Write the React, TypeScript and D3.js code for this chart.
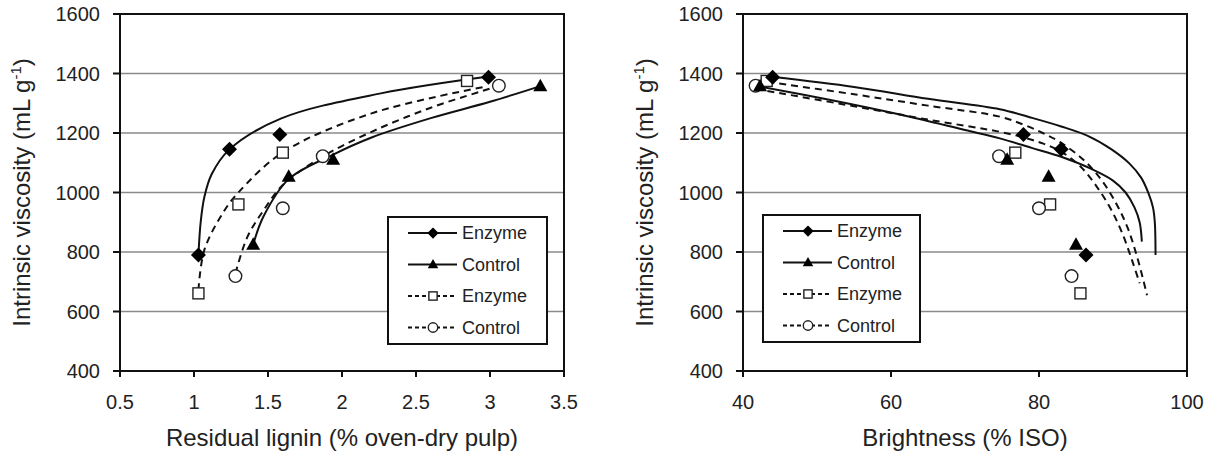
import React from 'react';
import * as d3 from 'd3';

// ---------- data ----------
const legendLabels = ['Enzyme', 'Control', 'Enzyme', 'Control'];

// Intrinsic viscosity (mL g-1), shared by both panels
const viscEnzymeA = [790, 1145, 1195, 1387];
const viscControlA = [824, 1053, 1110, 1357];
const viscEnzymeB = [661, 960, 1134, 1375];
const viscControlB = [719, 947, 1122, 1359];

// Residual lignin (% oven-dry pulp)
const ligninEnzymeA = [1.03, 1.24, 1.58, 2.99];
const ligninControlA = [1.40, 1.64, 1.94, 3.34];
const ligninEnzymeB = [1.03, 1.30, 1.60, 2.845];
const ligninControlB = [1.28, 1.60, 1.87, 3.06];

// Brightness (% ISO)
const brightEnzymeA = [86.35, 83.0, 77.9, 44.0];
const brightControlA = [85.0, 81.3, 75.7, 42.3];
const brightEnzymeB = [85.6, 81.5, 76.8, 43.2];
const brightControlB = [84.4, 80.0, 74.6, 41.7];

// Trend lines [x, viscosity]
const trendLigninEnzymeA = [[1.03, 790], [1.045, 900], [1.07, 985], [1.12, 1062], [1.24, 1145], [1.59, 1249], [2.27, 1334], [2.99, 1390]];
const trendLigninControlA = [[1.40, 825], [1.47, 920], [1.64, 1045], [1.93, 1125], [2.2, 1185], [2.6, 1250], [3.0, 1305], [3.33, 1356]];
const trendLigninEnzymeB = [[1.03, 672], [1.07, 807], [1.2, 935], [1.3, 1000], [1.6, 1135], [2.2, 1266], [2.95, 1354]];
const trendLigninControlB = [[1.28, 728], [1.36, 850], [1.47, 940], [1.6, 1025], [1.86, 1118], [2.2, 1204], [2.6, 1285], [3.0, 1349]];

const trendBrightEnzymeA = [[43.9, 1389], [55, 1355], [65, 1315], [74.7, 1280], [79.2, 1250], [83, 1222], [86.8, 1188], [89.8, 1145], [92.2, 1098], [93.8, 1050], [94.8, 997], [95.4, 950], [95.65, 900], [95.75, 790]];
const trendBrightControlA = [[42.3, 1356], [52, 1310], [61.2, 1262], [70, 1210], [74.7, 1182], [79, 1150], [83, 1120], [87, 1080], [90, 1040], [91.7, 1000], [92.9, 950], [93.6, 900], [93.9, 835]];
const trendBrightEnzymeB = [[43.3, 1372], [55, 1330], [65, 1292], [74.7, 1255], [77.9, 1228], [80.5, 1200], [82.8, 1170], [86, 1110], [88.5, 1040], [90.5, 960], [92, 880], [93.3, 780], [94.6, 655]];
const trendBrightControlB = [[41.7, 1348], [55, 1290], [65, 1245], [74.7, 1204], [77.9, 1185], [80.5, 1165], [82.8, 1140], [85.5, 1090], [87.8, 1020], [89.8, 940], [91.3, 860], [92.6, 770], [93.6, 695]];

const yTicks = [400, 600, 800, 1000, 1200, 1400, 1600];
const yTickLabels = ['400', '600', '800', '1000', '1200', '1400', '1600'];
const ligninTicks = [0.5, 1, 1.5, 2, 2.5, 3, 3.5];
const ligninTickLabels = ['0.5', '1', '1.5', '2', '2.5', '3', '3.5'];
const brightTicks = [40, 60, 80, 100];
const brightTickLabels = ['40', '60', '80', '100'];

const FONT = '"Liberation Sans", Arial, Helvetica, sans-serif';
const TEXT = '#222';

type Shape = 'diamond' | 'triangle' | 'square' | 'circle';

function Marker({ shape, x, y, k = 1 }: { shape: Shape; x: number; y: number; k?: number }) {
  if (shape === 'diamond') {
    const s = 7.5 * k;
    return <polygon points={`${x},${y - s} ${x + s},${y} ${x},${y + s} ${x - s},${y}`} fill="#000" />;
  }
  if (shape === 'triangle') {
    const w = 7 * k, h1 = 7.5 * k, h2 = 5 * k;
    return <polygon points={`${x},${y - h1} ${x + w},${y + h2} ${x - w},${y + h2}`} fill="#000" />;
  }
  if (shape === 'square') {
    const s = 5.5 * k;
    return <rect x={x - s} y={y - s} width={2 * s} height={2 * s} fill="#fff" stroke="#222" strokeWidth={1.4} />;
  }
  return <circle cx={x} cy={y} r={6.3 * k} fill="#fff" stroke="#222" strokeWidth={1.4} />;
}

type Series = { xs: number[]; ys: number[]; trend: number[][]; shape: Shape; dashed: boolean };

function Panel({ left, xDomain, xTicks, xTickLabels, xTitle, series, legend }: {
  left: number; xDomain: [number, number]; xTicks: number[]; xTickLabels: string[]; xTitle: string;
  series: Series[]; legend: { x: number; y: number; w: number; h: number };
}) {
  const top = 14, bottom = 371, width = 444;
  const x = d3.scaleLinear().domain(xDomain).range([left, left + width]);
  const y = d3.scaleLinear().domain([400, 1600]).range([bottom, top]);
  const line = d3.line<number[]>().x(d => x(d[0])).y(d => y(d[1])).curve(d3.curveCatmullRom.alpha(0.5));
  const drawOrder = [2, 3, 0, 1];
  const rowY = (i: number) => legend.y + 16 + i * 31.5;
  return (
    <g>
      {yTicks.slice(1, -1).map(t => (
        <line key={'g' + t} x1={left} x2={left + width} y1={y(t)} y2={y(t)} stroke="#8a8a8a" strokeWidth={1.5} />
      ))}
      <rect x={left} y={top} width={width} height={bottom - top} fill="none" stroke="#111" strokeWidth={2} />
      {yTicks.map((t, i) => (
        <g key={'yt' + t}>
          <line x1={left - 7} x2={left} y1={y(t)} y2={y(t)} stroke="#111" strokeWidth={2} />
          <text x={left - 20} y={y(t)} dy="0.35em" textAnchor="end" fontSize={20} fill={TEXT} fontFamily={FONT}>{yTickLabels[i]}</text>
        </g>
      ))}
      {xTicks.map((t, i) => (
        <g key={'xt' + t}>
          <line x1={x(t)} x2={x(t)} y1={bottom} y2={bottom + 6} stroke="#111" strokeWidth={2} />
          <text x={x(t)} y={409} textAnchor="middle" fontSize={20} fill={TEXT} fontFamily={FONT}>{xTickLabels[i]}</text>
        </g>
      ))}
      <text x={left + width / 2} y={446} textAnchor="middle" fontSize={24} fill={TEXT} fontFamily={FONT}>{xTitle}</text>
      <text transform={`translate(${left - 90},${(top + bottom) / 2}) rotate(-90)`} textAnchor="middle" fontSize={24} fill={TEXT} fontFamily={FONT}>
        Intrinsic viscosity (mL g<tspan fontSize={15} dy={-9}>-1</tspan><tspan dy={9}>)</tspan>
      </text>
      {series.map((s, i) => (
        <path key={'c' + i} d={line(s.trend) || ''} fill="none" stroke="#111" strokeWidth={2}
          strokeDasharray={s.dashed ? '7,5' : undefined} />
      ))}
      {drawOrder.map(i => series[i].xs.map((v, j) => (
        <Marker key={'m' + i + '-' + j} shape={series[i].shape} x={x(v)} y={y(series[i].ys[j])} />
      )))}
      <rect x={legend.x} y={legend.y} width={legend.w} height={legend.h} fill="#fff" stroke="#111" strokeWidth={2} />
      {series.map((s, i) => (
        <g key={'l' + i}>
          <line x1={legend.x + 20} x2={legend.x + 69} y1={rowY(i)} y2={rowY(i)} stroke="#111" strokeWidth={2}
            strokeDasharray={s.dashed ? '4,3' : undefined} />
          <Marker shape={s.shape} x={legend.x + 45} y={rowY(i)} k={0.75} />
          <text x={legend.x + 74} y={rowY(i)} dy="0.35em" fontSize={18} fill={TEXT} fontFamily={FONT}>{legendLabels[i]}</text>
        </g>
      ))}
    </g>
  );
}

export default function App() {
  const leftSeries: Series[] = [
    { xs: ligninEnzymeA, ys: viscEnzymeA, trend: trendLigninEnzymeA, shape: 'diamond', dashed: false },
    { xs: ligninControlA, ys: viscControlA, trend: trendLigninControlA, shape: 'triangle', dashed: false },
    { xs: ligninEnzymeB, ys: viscEnzymeB, trend: trendLigninEnzymeB, shape: 'square', dashed: true },
    { xs: ligninControlB, ys: viscControlB, trend: trendLigninControlB, shape: 'circle', dashed: true },
  ];
  const rightSeries: Series[] = [
    { xs: brightEnzymeA, ys: viscEnzymeA, trend: trendBrightEnzymeA, shape: 'diamond', dashed: false },
    { xs: brightControlA, ys: viscControlA, trend: trendBrightControlA, shape: 'triangle', dashed: false },
    { xs: brightEnzymeB, ys: viscEnzymeB, trend: trendBrightEnzymeB, shape: 'square', dashed: true },
    { xs: brightControlB, ys: viscControlB, trend: trendBrightControlB, shape: 'circle', dashed: true },
  ];
  return (
    <svg width={1206} height={452} style={{ position: 'absolute', left: 0, top: 0, background: '#fff' }}>
      <rect x={0} y={0} width={1206} height={452} fill="#fff" />
      <Panel left={120} xDomain={[0.5, 3.5]} xTicks={ligninTicks} xTickLabels={ligninTickLabels}
        xTitle="Residual lignin (% oven-dry pulp)" series={leftSeries}
        legend={{ x: 388, y: 217, w: 159, h: 127 }} />
      <Panel left={743} xDomain={[40, 100]} xTicks={brightTicks} xTickLabels={brightTickLabels}
        xTitle="Brightness (% ISO)" series={rightSeries}
        legend={{ x: 763, y: 215, w: 157, h: 127 }} />
    </svg>
  );
}
